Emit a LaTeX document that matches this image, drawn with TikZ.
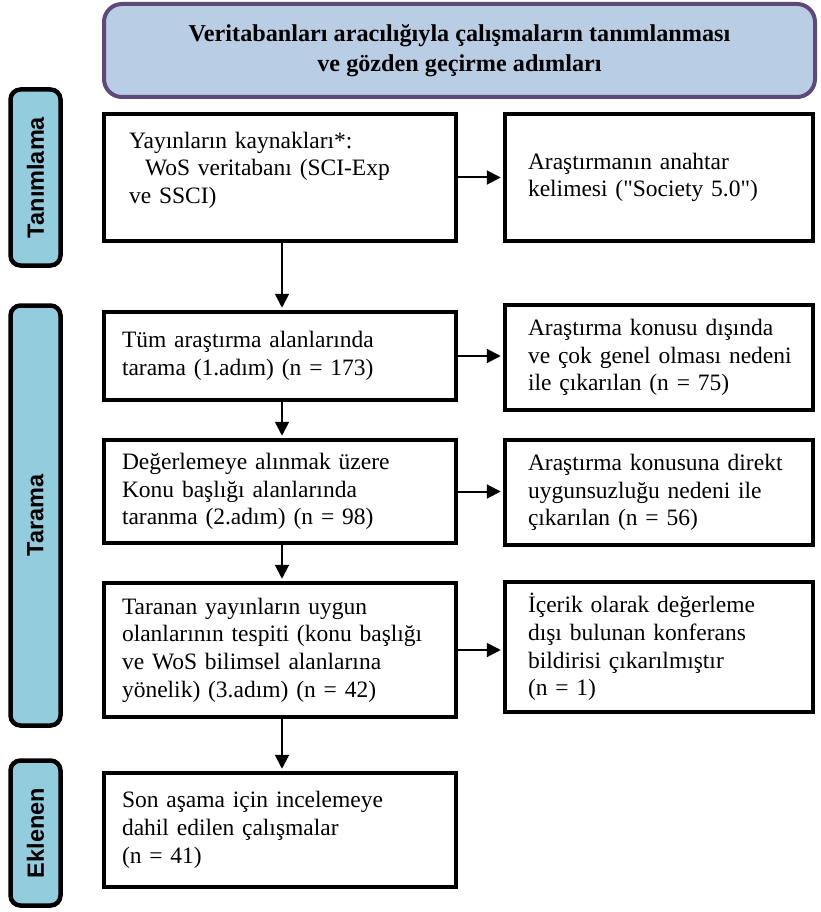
\documentclass[tikz,border=0pt]{standalone}
\usepackage{fontspec}
\setmainfont{Liberation Serif}[Ligatures=TeXOff]
\setsansfont{Liberation Sans}
\usetikzlibrary{arrows.meta}
\definecolor{titlefill}{HTML}{B9CDE5}
\definecolor{titleborder}{HTML}{5F497A}
\definecolor{tabfill}{HTML}{93CDDD}
\newcommand\oneline[1]{\mbox{#1}}
\begin{document}
\begin{tikzpicture}[x=1pt,y=-1pt,
  box/.style={draw=black, line width=4.5pt, fill=white, inner ysep=0pt,
    align=left, font=\fontsize{23.5}{27.7}\selectfont, minimum height=#1,
    execute at begin node={\hyphenpenalty=10000\exhyphenpenalty=10000}},
  lbox/.style={box=#1, minimum width=352pt, text width=316pt, inner xsep=18pt},
  rbox/.style={box=#1, minimum width=308pt, text width=262pt, inner xsep=23pt},
  tabbox/.style={draw=black, line width=4.5pt, fill=tabfill, rounded corners=10pt,
    minimum width=50pt, minimum height=#1, inner sep=0pt},
  tablabel/.style={font=\sffamily\bfseries\fontsize{23.5}{27}\selectfont, rotate=90},
  titlebox/.style={draw=titleborder, line width=4pt, fill=titlefill, rounded corners=18pt,
    minimum width=711pt, minimum height=93pt, align=center,
    font=\bfseries\fontsize{24.2}{30}\selectfont},
  arr/.style={line width=2pt, -{Triangle[length=14pt,width=14pt]}, shorten >=2pt}
]
\useasboundingbox (0,0) rectangle (821,912);

% title
\node[titlebox] (title) at (459.5,50.5) {Veritabanları aracılığıyla çalışmaların tanımlanması\\ve gözden geçirme adımları};

% phase tabs
\node[tabbox=176pt] (tab1) at (35.5,177.5) {};
\node[tablabel] (tab1t) at (tab1.center) {Tanımlama};
\node[tabbox=420pt] (tab2) at (35.5,515.5) {};
\node[tablabel] (tab2t) at (tab2.center) {Tarama};
\node[tabbox=145pt] (tab3) at (35.5,833) {};
\node[tablabel] (tab3t) at (tab3.center) {Eklenen};

% left column
\node[lbox=127pt, inner xsep=25pt, text width=302pt] (b1) at (280,177.5) {Yayınların kaynakları*:\\\hspace*{16pt}WoS veritabanı (SCI-Exp\\ve SSCI)\\[-8pt]\mbox{}};
\node[lbox=88pt] (b2) at (280,356) {Tüm araştırma alanlarında\\tarama (1.adım) (n = 173)};
\node[lbox=103pt] (b3) at (280,491.5) {Değerlemeye alınmak üzere\\Konu başlığı alanlarında\\taranma (2.adım) (n = 98)};
\node[lbox=134pt] (b4) at (280,650) {Taranan yayınların uygun\\\oneline{olanlarının tespiti (konu başlığı}\\ve WoS bilimsel alanlarına\\yönelik) (3.adım) (n = 42)};
\node[lbox=114pt] (b5) at (280,830) {Son aşama için incelemeye\\dahil edilen çalışmalar\\(n = 41)};

% right column
\node[rbox=127pt] (r1) at (659,177.5) {Araştırmanın anahtar\\kelimesi ("Society 5.0")};
\node[rbox=105pt] (r2) at (659,357.5) {Araştırma konusu dışında\\\oneline{ve çok genel olması nedeni}\\ile çıkarılan (n = 75)};
\node[rbox=105pt] (r3) at (659,492.5) {Araştırma konusuna direkt\\uygunsuzluğu nedeni ile\\çıkarılan (n = 56)};
\node[rbox=130pt] (r4) at (659,647) {İçerik olarak değerleme\\dışı bulunan konferans\\bildirisi çıkarılmıştır\\(n = 1)};

% connectors
\coordinate (ax) at (282,0);
\draw[arr] (b1.south -| ax) -- (b2.north -| ax);
\draw[arr] (b2.south -| ax) -- (b3.north -| ax);
\draw[arr] (b3.south -| ax) -- (b4.north -| ax);
\draw[arr] (b4.south -| ax) -- (b5.north -| ax);
\draw[arr] (b1.east) -- (r1.west |- b1.east);
\draw[arr] (b2.east) -- (r2.west |- b2.east);
\draw[arr] (b3.east) -- (r3.west |- b3.east);
\draw[arr] (b4.east) -- (r4.west |- b4.east);
\end{tikzpicture}
\end{document}
